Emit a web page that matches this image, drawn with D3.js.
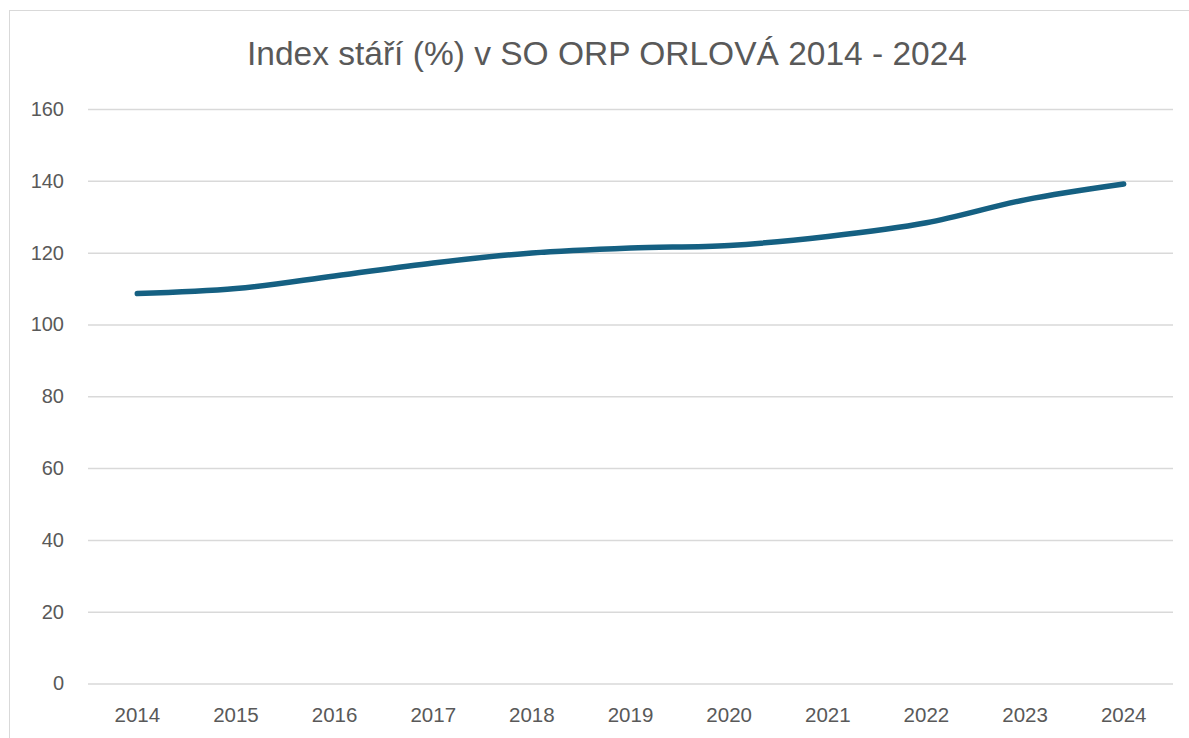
<!DOCTYPE html>
<html><head><meta charset="utf-8">
<script src="https://cdn.jsdelivr.net/npm/d3@7"></script>
<style>body{margin:0;background:#fff;}svg{display:block;}</style>
</head><body>
<script>
const years = ["2014","2015","2016","2017","2018","2019","2020","2021","2022","2023","2024"];
const values = [108.6, 110.0, 113.5, 117.1, 119.9, 121.3, 122.0, 124.5, 128.3, 134.7, 139.1];
const yTicks = [0,20,40,60,80,100,120,140,160];
const title = "Index stáří (%) v SO ORP ORLOVÁ 2014 - 2024";

(function(){
const W=1189,H=738;
const svg=d3.select("body").append("svg").attr("width",W).attr("height",H);
svg.append("rect").attr("x",9.5).attr("y",10.5).attr("width",W+10).attr("height",H+10)
  .attr("fill","#fff").attr("stroke","#d9d9d9").attr("stroke-width",1);
const mLeft=88,mRight=1173,mTop=109,mBottom=683.5;
const x=d3.scaleBand().domain(years).range([mLeft,mRight]);
const y=d3.scaleLinear().domain([0,160]).range([mBottom,mTop]);

svg.append("text").attr("x",607).attr("y",65).attr("text-anchor","middle")
  .attr("font-family","Liberation Sans, Arial, sans-serif").attr("font-size",33.5)
  .attr("fill","#595959").text(title);

const ga=svg.append("g").attr("transform",`translate(${mLeft},0)`)
 .call(d3.axisLeft(y).tickValues(yTicks).tickSize(-(mRight-mLeft)).tickPadding(24).tickFormat(d3.format("d")));
ga.select(".domain").remove();
ga.selectAll("line").attr("stroke","#d9d9d9").attr("stroke-width",1.5);
ga.selectAll("text").attr("font-family","Liberation Sans, Arial, sans-serif").attr("font-size",20).attr("fill","#595959");

const gx=svg.append("g").attr("transform",`translate(0,${mBottom})`)
 .call(d3.axisBottom(x).tickSize(0).tickPadding(24));
gx.select(".domain").remove();
gx.selectAll("text").attr("font-family","Liberation Sans, Arial, sans-serif").attr("font-size",20.5).attr("fill","#595959");

const line=d3.line().x((d,i)=>x(years[i])+x.bandwidth()/2).y(d=>y(d)).curve(d3.curveCatmullRom.alpha(0.5));
svg.append("path").datum(values).attr("d",line).attr("fill","none")
  .attr("stroke","#156082").attr("stroke-width",5.5).attr("stroke-linecap","round").attr("stroke-linejoin","round");
})();
</script>
</body></html>
